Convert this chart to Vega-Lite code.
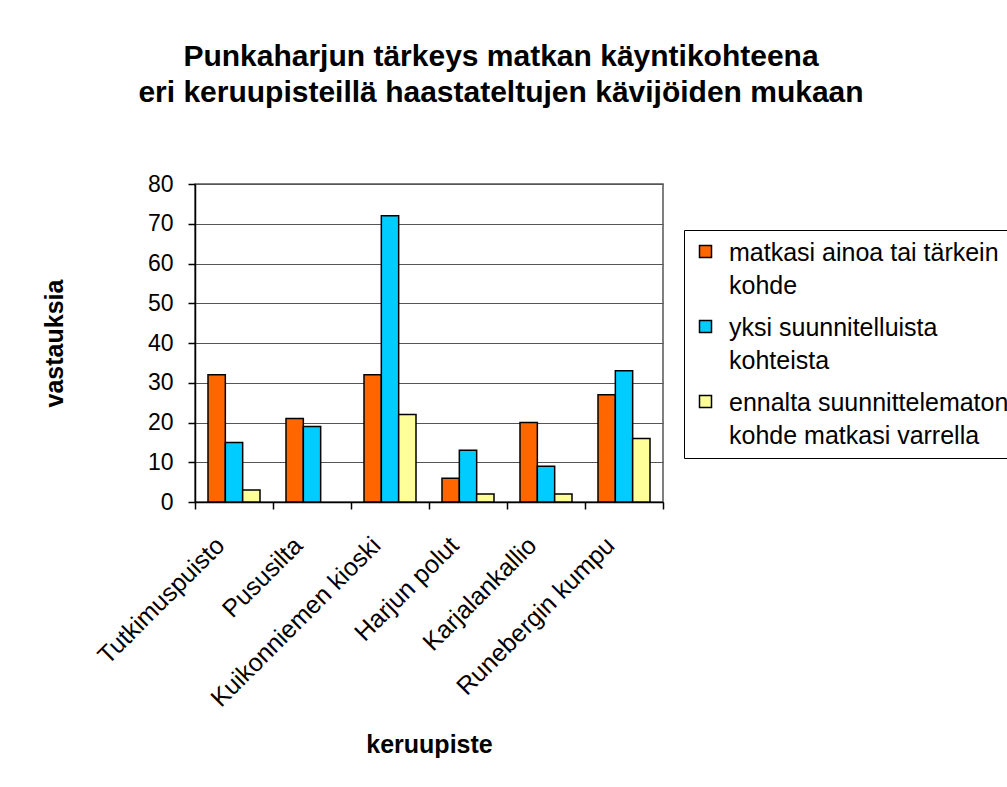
{
  "$schema": "https://vega.github.io/schema/vega-lite/v6.json",
  "width": 468,
  "height": 318,
  "autosize": {"type": "none"},
  "padding": {"left": 195, "top": 184, "right": 344, "bottom": 285},
  "background": "white",
  "title": {
    "text": ["Punkaharjun tärkeys matkan käyntikohteena", "eri keruupisteillä haastateltujen kävijöiden mukaan"],
    "font": "Liberation Sans",
    "fontSize": 30,
    "fontWeight": "bold",
    "lineHeight": 36,
    "anchor": "middle",
    "dx": 72,
    "offset": 65,
    "color": "black"
  },
  "data": {
    "values": [
      {"keruupiste": "Tutkimuspuisto", "sarja": "matkasi ainoa tai tärkein kohde", "vastauksia": 32},
      {"keruupiste": "Tutkimuspuisto", "sarja": "yksi suunnitelluista kohteista", "vastauksia": 15},
      {"keruupiste": "Tutkimuspuisto", "sarja": "ennalta suunnittelematon kohde matkasi varrella", "vastauksia": 3},
      {"keruupiste": "Pususilta", "sarja": "matkasi ainoa tai tärkein kohde", "vastauksia": 21},
      {"keruupiste": "Pususilta", "sarja": "yksi suunnitelluista kohteista", "vastauksia": 19},
      {"keruupiste": "Kuikonniemen kioski", "sarja": "matkasi ainoa tai tärkein kohde", "vastauksia": 32},
      {"keruupiste": "Kuikonniemen kioski", "sarja": "yksi suunnitelluista kohteista", "vastauksia": 72},
      {"keruupiste": "Kuikonniemen kioski", "sarja": "ennalta suunnittelematon kohde matkasi varrella", "vastauksia": 22},
      {"keruupiste": "Harjun polut", "sarja": "matkasi ainoa tai tärkein kohde", "vastauksia": 6},
      {"keruupiste": "Harjun polut", "sarja": "yksi suunnitelluista kohteista", "vastauksia": 13},
      {"keruupiste": "Harjun polut", "sarja": "ennalta suunnittelematon kohde matkasi varrella", "vastauksia": 2},
      {"keruupiste": "Karjalankallio", "sarja": "matkasi ainoa tai tärkein kohde", "vastauksia": 20},
      {"keruupiste": "Karjalankallio", "sarja": "yksi suunnitelluista kohteista", "vastauksia": 9},
      {"keruupiste": "Karjalankallio", "sarja": "ennalta suunnittelematon kohde matkasi varrella", "vastauksia": 2},
      {"keruupiste": "Runebergin kumpu", "sarja": "matkasi ainoa tai tärkein kohde", "vastauksia": 27},
      {"keruupiste": "Runebergin kumpu", "sarja": "yksi suunnitelluista kohteista", "vastauksia": 33},
      {"keruupiste": "Runebergin kumpu", "sarja": "ennalta suunnittelematon kohde matkasi varrella", "vastauksia": 16}
    ]
  },
  "mark": {"type": "bar", "stroke": "black", "strokeWidth": 1.5},
  "encoding": {
    "x": {
      "field": "keruupiste",
      "type": "nominal",
      "sort": ["Tutkimuspuisto", "Pususilta", "Kuikonniemen kioski", "Harjun polut", "Karjalankallio", "Runebergin kumpu"],
      "scale": {"paddingInner": 0, "paddingOuter": 0},
      "axis": {
        "tickBand": "extent",
        "labelAngle": -45,
        "labelAlign": "right",
        "labelBaseline": "middle",
        "labelFontSize": 25,
        "labelPadding": 32,
        "labelOffset": -14,
        "labelColor": "black",
        "labelFont": "Liberation Sans",
        "labelLimit": 400,
        "tickSize": 7,
        "tickColor": "black",
        "tickWidth": 1.5,
        "domainColor": "black",
        "domainWidth": 1.5,
        "title": "keruupiste",
        "titleFont": "Liberation Sans",
        "titleFontSize": 25,
        "titleFontWeight": "bold",
        "titleColor": "black",
        "titleY": 250,
        "titleBaseline": "alphabetic"
      }
    },
    "xOffset": {
      "field": "sarja",
      "sort": ["matkasi ainoa tai tärkein kohde", "yksi suunnitelluista kohteista", "ennalta suunnittelematon kohde matkasi varrella"],
      "scale": {"paddingInner": 0, "paddingOuter": 0.75}
    },
    "y": {
      "field": "vastauksia",
      "type": "quantitative",
      "scale": {"domain": [0, 80], "nice": false},
      "axis": {
        "values": [0, 10, 20, 30, 40, 50, 60, 70, 80],
        "grid": true,
        "gridColor": "#555555",
        "gridWidth": 1,
        "tickSize": 7,
        "tickColor": "black",
        "tickWidth": 1.5,
        "domainColor": "black",
        "domainWidth": 1.5,
        "labelFontSize": 23,
        "labelFont": "Liberation Sans",
        "labelColor": "black",
        "labelPadding": 15,
        "title": "vastauksia",
        "titleFont": "Liberation Sans",
        "titleFontSize": 25,
        "titleFontWeight": "bold",
        "titleColor": "black",
        "titleX": -133,
        "titleY": 159,
        "titleBaseline": "alphabetic"
      }
    },
    "color": {
      "field": "sarja",
      "type": "nominal",
      "scale": {
        "domain": ["matkasi ainoa tai tärkein kohde", "yksi suunnitelluista kohteista", "ennalta suunnittelematon kohde matkasi varrella"],
        "range": ["#FF6600", "#00CCFF", "#FFFF99"]
      },
      "legend": {
        "title": null,
        "orient": "none",
        "legendX": 489,
        "legendY": 46,
        "strokeColor": "black",
        "fillColor": "white",
        "padding": 9,
        "symbolType": "square",
        "symbolSize": 144,
        "symbolStrokeColor": "black",
        "symbolStrokeWidth": 1.5,
        "symbolOpacity": 1,
        "labelFont": "Liberation Sans",
        "labelFontSize": 25,
        "labelColor": "black",
        "labelLimit": 400,
        "labelOffset": 11,
        "labelBaseline": "top",
        "rowPadding": 15,
        "labelExpr": "datum.label == 'matkasi ainoa tai tärkein kohde' ? ['matkasi ainoa tai tärkein', 'kohde'] : datum.label == 'yksi suunnitelluista kohteista' ? ['yksi suunnitelluista', 'kohteista'] : ['ennalta suunnittelematon', 'kohde matkasi varrella']",
        "encode": {"labels": {"update": {"dy": {"value": -11}}}}
      }
    }
  },
  "config": {
    "view": {"stroke": "#555555", "strokeWidth": 1.5},
    "style": {"guide-label": {"lineHeight": 33}}
  }
}
